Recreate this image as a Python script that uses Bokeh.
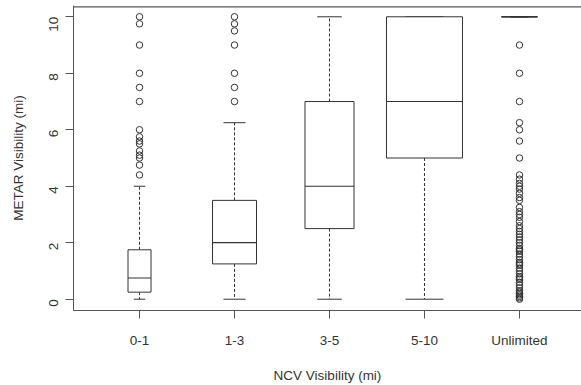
import math
import numpy as np
from bokeh.plotting import figure
from bokeh.models import FixedTicker, Range1d
from bokeh.embed import file_html
from bokeh.resources import INLINE

# ---- data ----
categories = ["0-1", "1-3", "3-5", "5-10", "Unlimited"]
counts = [44, 161, 200, 480, 108]
lower_whisker = [0.0, 0.0, 0.0, 0.0, 10.0]
q1 = [0.25, 1.25, 2.5, 5.0, 10.0]
median = [0.75, 2.0, 4.0, 7.0, 10.0]
q3 = [1.75, 3.5, 7.0, 10.0, 10.0]
upper_whisker = [4.0, 6.25, 10.0, 10.0, 10.0]
outliers_0_1 = [10, 9.75, 9, 8, 7.5, 7, 6, 5.75, 5.6, 5.5, 5.25, 5.1, 5, 4.75, 4.4]
outliers_1_3 = [10, 9.75, 9.5, 9, 8, 7.5, 7]
outliers_3_5 = []
outliers_5_10 = []
outliers_unlimited = [9, 8, 7, 6.25, 6, 5.6, 5, 4.4, 4.25, 4.1, 4, 3.9, 3.75, 3.6,
                      3.5, 3.25, 3.1, 3, 2.9, 2.75, 2.6, 2.5, 2.4, 2.3, 2.2, 2.1,
                      2, 1.9, 1.8, 1.75, 1.7, 1.6, 1.5, 1.4, 1.3, 1.25, 1.2, 1.1,
                      1, 0.9, 0.8, 0.75, 0.7, 0.6, 0.5, 0.4, 0.3, 0.25, 0.2, 0.15,
                      0.1, 0.05, 0]
outliers = [outliers_0_1, outliers_1_3, outliers_3_5, outliers_5_10, outliers_unlimited]
y_ticks = [0, 2, 4, 6, 8, 10]

FONT = "Liberation Sans"
FS = "13.5px"
LC = "#333333"
AXC = "#555555"

pos = np.arange(1, len(categories) + 1, dtype=float)
nmax = max(counts)
widths = np.array([0.8 * math.sqrt(n / nmax) for n in counts])

X_LO, X_HI = 0.305, 5.653
Y_LO, Y_HI = -0.4, 10.4

p = figure(width=581, height=385, output_backend="svg", toolbar_location=None,
           x_range=Range1d(X_LO, X_HI), y_range=Range1d(Y_LO, Y_HI))
p.min_border_left = 73
p.min_border_right = 0
p.min_border_top = 5
p.min_border_bottom = 72
p.outline_line_color = None
p.grid.visible = False
p.background_fill_color = "white"
p.border_fill_color = "white"

# top side of the plot box, drawn just inside the frame
p.segment(x0=[X_LO], y0=[Y_HI - 0.05], x1=[X_HI], y1=[Y_HI - 0.05],
          line_color=AXC, line_width=1.2)

# whiskers
p.segment(x0=pos, y0=np.array(q3), x1=pos, y1=np.array(upper_whisker),
          line_color=LC, line_width=1, line_dash="3 2")
p.segment(x0=pos, y0=np.array(q1), x1=pos, y1=np.array(lower_whisker),
          line_color=LC, line_width=1, line_dash="3 2")
# caps
p.segment(x0=pos - widths / 4, y0=upper_whisker, x1=pos + widths / 4, y1=upper_whisker,
          line_color=LC, line_width=1)
p.segment(x0=pos - widths / 4, y0=lower_whisker, x1=pos + widths / 4, y1=lower_whisker,
          line_color=LC, line_width=1)
# boxes
p.quad(left=pos - widths / 2, right=pos + widths / 2, bottom=q1, top=q3,
       fill_color="white", line_color=LC, line_width=1)
# medians
p.segment(x0=pos - widths / 2, y0=median, x1=pos + widths / 2, y1=median,
          line_color=LC, line_width=1.2)
# outliers
ox, oy = [], []
for i, vals in enumerate(outliers):
    ox += [pos[i]] * len(vals)
    oy += list(vals)
p.scatter(ox, oy, marker="circle", size=6.5, fill_color=None, line_color=LC, line_width=1)

# axes
xa = p.xaxis[0]
xa.ticker = FixedTicker(ticks=list(pos))
xa.major_label_overrides = {float(v): c for v, c in zip(pos, categories)}
xa.major_label_overrides.update({int(v): c for v, c in zip(pos, categories)})
xa.minor_tick_line_color = None
xa.axis_label = "NCV Visibility (mi)"

ya = p.yaxis[0]
ya.ticker = FixedTicker(ticks=y_ticks)
ya.minor_tick_line_color = None
ya.axis_label = "METAR Visibility (mi)"
ya.major_label_orientation = math.pi / 2

for ax in (xa, ya):
    ax.axis_line_color = AXC
    ax.major_tick_line_color = AXC
    ax.major_tick_in = 0
    ax.major_tick_out = 8
    ax.major_label_text_font = FONT
    ax.major_label_text_font_size = FS
    ax.major_label_text_color = LC
    ax.axis_label_text_font = FONT
    ax.axis_label_text_font_size = FS
    ax.axis_label_text_font_style = "normal"
    ax.axis_label_text_color = LC
xa.major_label_standoff = 14
xa.axis_label_standoff = 17
ya.major_label_standoff = 12
ya.axis_label_standoff = 16

open("out.html", "w").write(file_html(p, INLINE))
